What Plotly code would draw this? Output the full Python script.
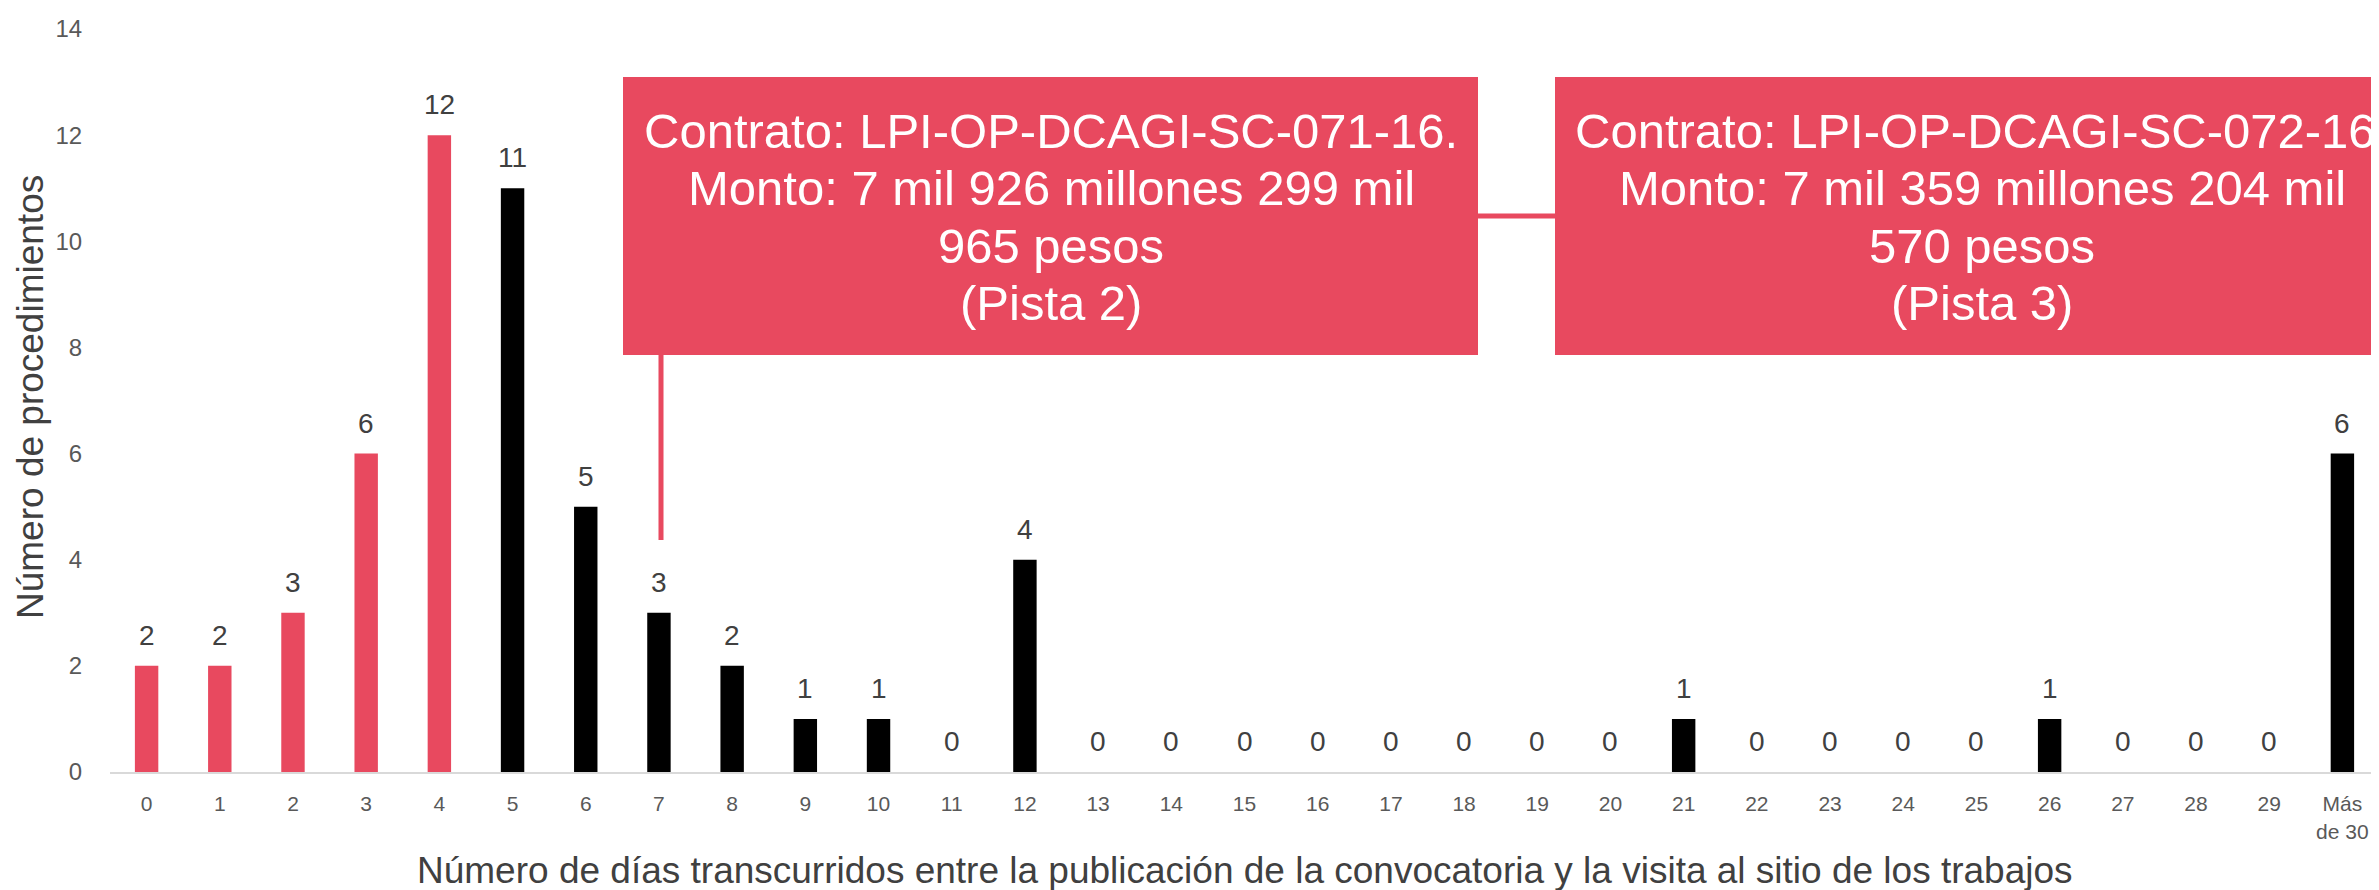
import plotly.graph_objects as go

categories = [str(i) for i in range(30)] + ["Más<br>de 30"]
values = [2, 2, 3, 6, 12, 11, 5, 3, 2, 1, 1, 0, 4, 0, 0, 0, 0, 0, 0, 0, 0, 1, 0, 0, 0, 0, 1, 0, 0, 0, 6]
highlight = [True] * 5 + [False] * 26
y_ticks = [0, 2, 4, 6, 8, 10, 12, 14]

box_lines = [
    ["Contrato: LPI-OP-DCAGI-SC-071-16.", "Monto: 7 mil 926 millones 299 mil", "965 pesos", "(Pista 2)"],
    ["Contrato: LPI-OP-DCAGI-SC-072-16.", "Monto: 7 mil 359 millones 204 mil", "570 pesos", "(Pista 3)"],
]

RED = "#E8495F"
FONT = "Arial, Liberation Sans, sans-serif"

# page body has an 8px margin: figure is sized so that it fills the window
OFF = 8
W, H = 2371, 882
L, R, T, B = 102, 0, 21, 118
PW, PH = W - L - R, H - T - B


def px(xw):
    return (xw - OFF - L) / PW


def py(yw):
    return (H - B - (yw - OFF)) / PH


colors = [RED if h else "#000000" for h in highlight]

fig = go.Figure()
fig.add_trace(go.Bar(x=categories, y=values, marker=dict(color=colors, line=dict(width=0)),
                     width=0.32, hoverinfo="x+y"))

annotations = []
for c, v in zip(categories, values):
    annotations.append(dict(x=c, y=v, xref="x", yref="y", text=str(v), showarrow=False,
                            yanchor="bottom", yshift=13,
                            font=dict(family=FONT, size=28, color="#404040")))

# annotation boxes: (left, right, text centre) in window pixels
shapes = []
boxes = [(623, 1478, 1051), (1555, 2421, 1982)]
for (x0, x1, xc), lines in zip(boxes, box_lines):
    shapes.append(dict(type="rect", xref="paper", yref="paper", x0=px(x0), x1=px(x1),
                       y0=py(355), y1=py(77), fillcolor=RED, line=dict(width=0), layer="above"))
    for i, line in enumerate(lines):
        annotations.append(dict(xref="paper", yref="paper", x=px(xc), y=py(131 + 57.3 * i),
                                xanchor="center", yanchor="middle", text=line, showarrow=False,
                                font=dict(family=FONT, size=49, color="#FFFFFF")))

# connectors
shapes.append(dict(type="line", xref="paper", yref="paper", x0=px(661), x1=px(661),
                   y0=py(355), y1=py(540), line=dict(color=RED, width=5)))
shapes.append(dict(type="line", xref="paper", yref="paper", x0=px(1478), x1=px(1555),
                   y0=py(216), y1=py(216), line=dict(color=RED, width=5)))

# axis titles
annotations.append(dict(xref="paper", yref="paper", x=0.5, y=py(870), xanchor="center",
                        yanchor="middle", showarrow=False,
                        text="Número de días transcurridos entre la publicación de la convocatoria y la visita al sitio de los trabajos",
                        font=dict(family=FONT, size=37, color="#404040")))
annotations.append(dict(xref="paper", yref="paper", x=px(30), y=py(397), xanchor="center",
                        yanchor="middle", showarrow=False, textangle=-90,
                        text="Número de procedimientos",
                        font=dict(family=FONT, size=37, color="#404040")))

fig.update_layout(
    width=W, height=H,
    margin=dict(l=L, r=R, t=T, b=B, pad=0),
    paper_bgcolor="white", plot_bgcolor="white",
    showlegend=False,
    bargap=0.68,
    shapes=shapes,
    annotations=annotations,
    font=dict(family=FONT),
    xaxis=dict(type="category", categoryorder="array", categoryarray=categories,
               showgrid=False, zeroline=False, showline=True, linecolor="#D9D9D9", linewidth=2,
               ticks="outside", ticklen=12, tickcolor="rgba(0,0,0,0)",
               tickfont=dict(family=FONT, size=21, color="#595959")),
    yaxis=dict(range=[0, 14], tickvals=y_ticks, showgrid=False, zeroline=False, showline=False,
               ticks="outside", ticklen=22, tickcolor="rgba(0,0,0,0)",
               tickfont=dict(family=FONT, size=24, color="#595959")),
)

fig.write_html("out.html")
